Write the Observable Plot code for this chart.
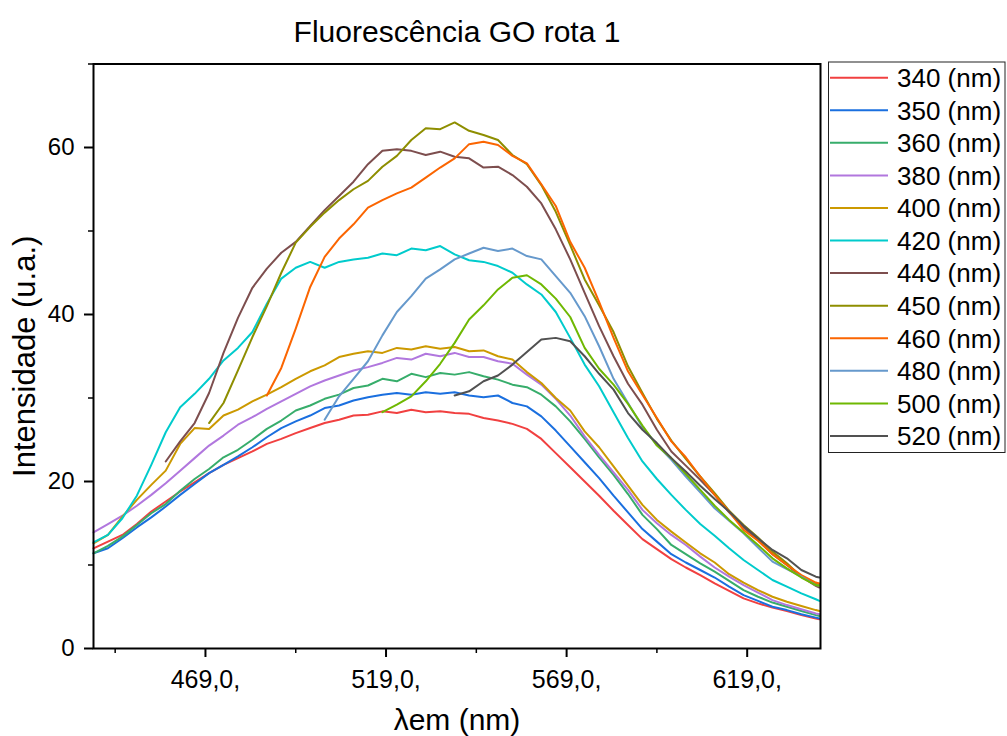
<!DOCTYPE html>
<html>
<head>
<meta charset="utf-8">
<script src="https://cdn.jsdelivr.net/npm/d3@7"></script>
<script src="https://cdn.jsdelivr.net/npm/@observablehq/plot@0.6"></script>
<style>
  body { margin: 0; background: #fff; }
  #chart { position: relative; width: 1007px; height: 736px; }
</style>
</head>
<body>
<div id="chart"></div>
<script>
// Emission wavelength grid (nm)
const lambda = [438, 442, 446, 450, 454, 458, 462, 466, 470, 474,
  478, 482, 486, 490, 494, 498, 502, 506, 510, 514,
  518, 522, 526, 530, 534, 538, 542, 546, 550, 554,
  558, 562, 566, 570, 574, 578, 582, 586, 590, 594,
  598, 602, 606, 610, 614, 618, 622, 626, 630, 634,
  638, 639];

const seriesNames = ["340 (nm)", "350 (nm)", "360 (nm)", "380 (nm)", "400 (nm)", "420 (nm)",
  "440 (nm)", "450 (nm)", "460 (nm)", "480 (nm)", "500 (nm)", "520 (nm)"];
const palette = ["#F14040", "#1A6FDF", "#37AD6B", "#B177DE", "#CC9900", "#00CBCC",
  "#7D4E4E", "#8E8E00", "#FB6501", "#6699CC", "#6FB802", "#515151"];

const s340 = [12.0, 12.8, 13.6, 14.9, 16.4, 17.6, 18.8, 19.9, 21.0, 22.0,
  22.8, 23.6, 24.5, 25.1, 25.8, 26.4, 27.0, 27.4, 27.9, 28.0,
  28.4, 28.2, 28.6, 28.3, 28.4, 28.2, 28.1, 27.6, 27.3, 26.9,
  26.3, 25.1, 23.4, 21.7, 20.0, 18.3, 16.5, 14.8, 13.1, 11.9,
  10.7, 9.7, 8.8, 7.8, 6.9, 6.0, 5.4, 4.9, 4.5, 4.0,
  3.6, 3.5];
const s350 = [11.4, 12.0, 13.2, 14.5, 15.7, 17.0, 18.4, 19.7, 21.0, 22.0,
  23.0, 24.1, 25.3, 26.4, 27.2, 27.9, 28.8, 29.1, 29.7, 30.1,
  30.4, 30.6, 30.4, 30.7, 30.5, 30.7, 30.3, 30.1, 30.3, 29.4,
  29.0, 27.8, 26.1, 24.2, 22.3, 20.4, 18.3, 16.3, 14.3, 12.8,
  11.3, 10.3, 9.4, 8.5, 7.4, 6.4, 5.7, 5.0, 4.6, 4.1,
  3.7, 3.6];
const s360 = [11.4, 12.3, 13.4, 14.8, 16.2, 17.3, 18.9, 20.3, 21.5, 22.9,
  23.8, 25.0, 26.3, 27.3, 28.5, 29.1, 29.9, 30.4, 31.2, 31.5,
  32.3, 32.0, 32.9, 32.5, 33.0, 32.8, 33.1, 32.6, 32.2, 31.6,
  31.3, 30.4, 29.0, 27.2, 25.1, 22.9, 20.8, 18.5, 16.0, 14.3,
  12.4, 11.3, 10.2, 9.2, 8.1, 7.0, 6.2, 5.5, 5.0, 4.5,
  4.0, 3.9];
const s380 = [13.9, 14.9, 15.9, 17.1, 18.4, 19.8, 21.3, 22.8, 24.3, 25.5,
  26.8, 27.7, 28.7, 29.6, 30.5, 31.4, 32.1, 32.7, 33.3, 33.7,
  34.2, 34.8, 34.6, 35.3, 35.0, 35.4, 34.9, 34.9, 34.4, 34.1,
  32.8, 31.6, 29.9, 27.9, 25.4, 23.2, 21.1, 19.0, 16.6, 15.0,
  13.6, 12.4, 11.0, 9.7, 8.6, 7.6, 6.7, 5.8, 5.2, 4.7,
  4.2, 4.1];
const s400 = [12.6, 13.6, 15.8, 17.8, 19.6, 21.3, 24.5, 26.4, 26.3, 27.9,
  28.6, 29.6, 30.4, 31.3, 32.3, 33.2, 33.9, 34.9, 35.3, 35.6,
  35.4, 36.0, 35.8, 36.2, 35.9, 36.1, 35.6, 35.7, 35.0, 34.6,
  33.1, 31.8, 30.0, 28.5, 26.0, 24.1, 21.8, 19.5, 17.2, 15.4,
  14.0, 12.7, 11.4, 10.3, 8.9, 7.9, 7.0, 6.2, 5.6, 5.1,
  4.6, 4.5];
const s420 = [12.7, 13.6, 15.6, 18.3, 22.0, 25.9, 28.9, 30.5, 32.3, 34.5,
  36.0, 37.9, 41.3, 44.3, 45.6, 46.3, 45.6, 46.3, 46.6, 46.8,
  47.3, 47.1, 47.9, 47.7, 48.2, 47.2, 46.5, 46.3, 45.8, 45.0,
  43.6, 42.4, 40.3, 37.2, 34.0, 31.4, 28.3, 25.2, 22.4, 20.3,
  18.4, 16.6, 14.9, 13.5, 12.0, 10.6, 9.4, 8.2, 7.4, 6.6,
  5.9, 5.7];
const s440 = [null, null, null, null, null, 22.4, 24.8, 27.0, 30.6, 35.4,
  39.6, 43.2, 45.5, 47.4, 48.7, 50.6, 52.5, 54.2, 55.9, 58.0,
  59.6, 59.8, 59.6, 59.1, 59.5, 58.9, 58.7, 57.6, 57.7, 56.7,
  55.3, 53.3, 50.2, 46.6, 42.6, 38.6, 35.0, 31.7, 29.2, 26.2,
  23.6, 21.9, 20.2, 18.4, 16.3, 14.5, 13.0, 11.3, 10.0, 8.6,
  7.5, 7.3];
const s450 = [null, null, null, null, null, null, null, null, 27.0, 29.4,
  33.3, 37.3, 41.0, 45.0, 48.6, 50.5, 52.2, 53.7, 55.0, 56.0,
  57.7, 59.0, 60.9, 62.3, 62.2, 63.0, 62.0, 61.5, 60.9, 59.1,
  58.0, 55.5, 52.3, 48.3, 44.2, 41.1, 37.9, 33.8, 30.6, 27.5,
  24.9, 22.7, 20.6, 18.6, 16.5, 14.8, 13.3, 11.6, 10.2, 8.6,
  7.8, 7.6];
const s460 = [null, null, null, null, null, null, null, null, null, null,
  null, null, 30.3, 33.6, 38.3, 43.3, 46.9, 49.1, 50.8, 52.8,
  53.7, 54.5, 55.2, 56.4, 57.6, 58.7, 60.4, 60.7, 60.3, 59.0,
  58.1, 55.6, 53.0, 48.7, 45.6, 41.5, 37.2, 33.2, 30.4, 27.6,
  24.8, 22.9, 20.6, 18.4, 16.4, 14.2, 12.9, 11.3, 10.0, 8.8,
  7.9, 7.8];
const s480 = [null, null, null, null, null, null, null, null, null, null,
  null, null, null, null, null, null, 27.4, 30.2, 32.3, 34.4,
  37.5, 40.3, 42.2, 44.3, 45.4, 46.6, 47.3, 48.0, 47.6, 47.9,
  47.0, 46.6, 44.6, 42.6, 39.8, 36.2, 32.3, 29.4, 26.5, 24.4,
  22.6, 20.6, 18.7, 16.8, 15.3, 13.8, 12.1, 10.4, 9.5, 8.6,
  7.6, 7.5];
const s500 = [null, null, null, null, null, null, null, null, null, null,
  null, null, null, null, null, null, null, null, null, null,
  28.3, 29.2, 30.2, 32.0, 34.1, 36.6, 39.4, 41.1, 43.0, 44.4,
  44.7, 43.6, 41.9, 39.7, 36.0, 33.5, 31.6, 29.3, 26.7, 24.3,
  22.8, 20.9, 19.0, 17.1, 15.4, 13.9, 12.4, 10.8, 9.6, 8.5,
  7.6, 7.5];
const s520 = [null, null, null, null, null, null, null, null, null, null,
  null, null, null, null, null, null, null, null, null, null,
  null, null, null, null, null, 30.3, 30.8, 32.0, 32.7, 34.0,
  35.5, 37.0, 37.2, 36.8, 35.0, 32.9, 31.0, 28.2, 26.2, 24.6,
  22.8, 21.2, 19.5, 17.9, 16.4, 14.7, 13.2, 11.8, 10.8, 9.4,
  8.6, 8.5];

const xMajorTicks = [469, 519, 569, 619];
const xTickLabels = ["469,0,", "519,0,", "569,0,", "619,0,"];
const xMinorTicks = [444, 494, 544, 594];
const yMajorTicks = [0, 20, 40, 60];
const yMinorTicks = [10, 30, 50, 70];

const chartTitle = "Fluorescência GO rota 1";
const xLabel = "λem (nm)";
const yLabel = "Intensidade (u.a.)";

const seriesValues = [s340, s350, s360, s380, s400, s420, s440, s450, s460, s480, s500, s520];
const rows = [];
seriesNames.forEach((name, i) => {
  seriesValues[i].forEach((v, j) => {
    if (v != null) rows.push({series: name, lambda: lambda[j], value: v});
  });
});

const font = "'Liberation Sans', Arial, sans-serif";

const chart = Plot.plot({
  width: 1007,
  height: 736,
  marginLeft: 93,
  marginRight: 187,
  marginTop: 63.5,
  marginBottom: 88,
  style: {fontFamily: font, background: "white", color: "black", overflow: "visible"},
  x: {domain: [438, 639.3]},
  y: {domain: [0, 70]},
  color: {domain: seriesNames, range: palette},
  marks: [
    Plot.line(rows, {x: "lambda", y: "value", z: "series", stroke: "series", strokeWidth: 2, curve: "linear"}),
    Plot.frame({stroke: "black", strokeWidth: 2}),
    Plot.axisX({ticks: xMajorTicks, tickFormat: d => xTickLabels[xMajorTicks.indexOf(d)], tickSize: 9, tickPadding: 13, fontSize: 25, strokeWidth: 2, label: null}),
    Plot.axisX({ticks: xMinorTicks, tickFormat: () => "", tickSize: 5, strokeWidth: 1.5, label: null}),
    Plot.axisY({ticks: yMajorTicks, tickSize: 9, tickPadding: 10, fontSize: 24, strokeWidth: 2, label: null}),
    Plot.axisY({ticks: yMinorTicks, tickFormat: () => "", tickSize: 5, strokeWidth: 1.5, label: null}),
    Plot.text([chartTitle], {frameAnchor: "top", dy: -31.5, lineAnchor: "middle", textAnchor: "middle", fontSize: 30, fill: "black"}),
    Plot.text([xLabel], {frameAnchor: "bottom", dy: 72, lineAnchor: "middle", textAnchor: "middle", fontSize: 30, fill: "black"}),
    Plot.text([yLabel], {frameAnchor: "left", dx: -68, rotate: -90, lineAnchor: "middle", textAnchor: "middle", fontSize: 31, fill: "black"})
  ]
});

document.getElementById("chart").appendChild(chart);

// Legend (line swatches in a box to the right of the plot)
const svg = d3.select(chart);
const lg = svg.append("g").attr("font-family", font).attr("font-size", 26).attr("text-anchor", "start");
lg.append("rect").attr("x", 828.5).attr("y", 62).attr("width", 176.5).attr("height", 390.5)
  .attr("fill", "white").attr("stroke", "#222").attr("stroke-width", 1);
seriesNames.forEach((name, i) => {
  const cy = 77.7 + i * 32.57;
  lg.append("line").attr("x1", 830).attr("x2", 888).attr("y1", cy).attr("y2", cy)
    .attr("stroke", palette[i]).attr("stroke-width", 2);
  lg.append("text").attr("x", 897).attr("y", cy).attr("dy", "0.36em").attr("fill", "black").text(name);
});
</script>
</body>
</html>
